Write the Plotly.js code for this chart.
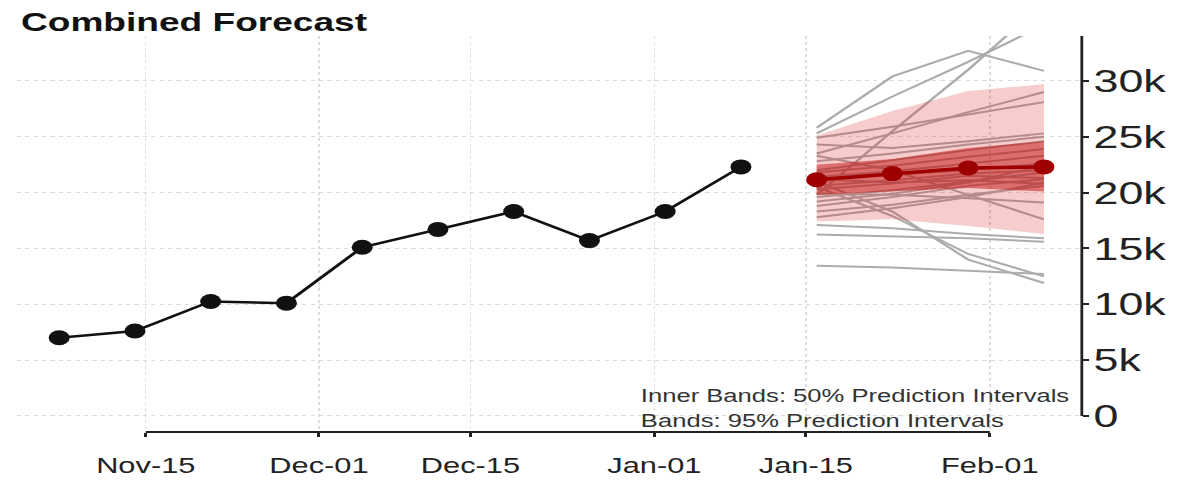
<!DOCTYPE html>
<html>
<head>
<meta charset="utf-8">
<script src="https://cdn.plot.ly/plotly-3.0.1.min.js"></script>
<style>
  html, body { margin: 0; padding: 0; background: #ffffff; overflow: hidden; }
  #chart { width: 851px; height: 480px; transform: scaleX(1.3995); transform-origin: 0 0; }
</style>
</head>
<body>
<div id="chart"></div>
<script>
// ---- data ----
const histDates = ['2016-11-07','2016-11-14','2016-11-21','2016-11-28','2016-12-05','2016-12-12','2016-12-19','2016-12-26','2017-01-02','2017-01-09'];
const histValues = [7000, 7600, 10250, 10100, 15100, 16700, 18300, 15700, 18300, 22300];

const fcDates = ['2017-01-16','2017-01-23','2017-01-30','2017-02-06'];
const fcMedian = [21150, 21700, 22200, 22300];
const pi95Lower = [17400, 17600, 17000, 16300];
const pi95Upper = [25100, 27300, 29100, 29700];
const pi50Lower = [19800, 20100, 20400, 20100];
const pi50Upper = [22500, 23000, 24000, 24600];

// individual model forecast paths (one row per model, values at fcDates)
const modelPaths = [
  [25800, 30400, 32700, 30900],
  [25300, 28600, 31700, 35000],
  [19800, 25500, 31000, 37000],
  [24900, 25900, 27000, 28100],
  [23500, 25300, 27200, 29000],
  [24300, 24000, 24600, 25300],
  [22800, 23500, 24300, 25000],
  [23300, 22000, 19800, 17600],
  [22000, 22900, 23800, 24600],
  [21800, 22400, 23200, 23900],
  [21400, 21900, 22600, 23300],
  [21000, 21600, 22000, 22600],
  [20600, 21100, 21700, 22000],
  [20300, 20800, 21500, 21300],
  [21200, 20900, 21100, 20800],
  [19600, 20200, 21000, 21800],
  [19200, 19900, 20900, 22400],
  [18800, 19600, 20600, 21200],
  [18300, 18900, 19800, 20600],
  [17800, 18600, 19600, 20900],
  [19900, 19800, 19500, 19100],
  [20500, 17900, 14500, 12500],
  [21000, 18300, 14000, 11900],
  [17100, 16800, 16300, 15900],
  [16250, 16100, 15900, 15600],
  [13450, 13300, 13000, 12700]
];

const xTickDates = ['2016-11-15','2016-12-01','2016-12-15','2017-01-01','2017-01-15','2017-02-01'];
const xTickLabels = ['Nov-15','Dec-01','Dec-15','Jan-01','Jan-15','Feb-01'];
const yTickVals = [0, 5000, 10000, 15000, 20000, 25000, 30000];
const yTickLabels = ['0','5k','10k','15k','20k','25k','30k'];

const noteLines = ['Inner Bands: 50% Prediction Intervals', 'Bands: 95% Prediction Intervals'];
const chartTitle = 'Combined Forecast';

// ---- traces ----
const FONT = '"Liberation Sans", Arial, Helvetica, sans-serif';
const yTop = 34020;
const traces = [];

modelPaths.forEach(function (p) {
  traces.push({
    x: fcDates, y: p, type: 'scatter', mode: 'lines',
    line: { color: '#acacac', width: 2 }, hoverinfo: 'skip', showlegend: false
  });
});

traces.push({ x: fcDates, y: pi95Lower, type: 'scatter', mode: 'lines',
  line: { width: 0, color: 'rgba(0,0,0,0)' }, hoverinfo: 'skip', showlegend: false });
traces.push({ x: fcDates, y: pi95Upper, type: 'scatter', mode: 'lines', fill: 'tonexty',
  fillcolor: 'rgba(215,25,25,0.22)', line: { width: 0, color: 'rgba(0,0,0,0)' },
  hoverinfo: 'skip', showlegend: false });
traces.push({ x: fcDates, y: pi50Lower, type: 'scatter', mode: 'lines',
  line: { width: 0, color: 'rgba(0,0,0,0)' }, hoverinfo: 'skip', showlegend: false });
traces.push({ x: fcDates, y: pi50Upper, type: 'scatter', mode: 'lines', fill: 'tonexty',
  fillcolor: 'rgba(195,15,15,0.5)', line: { width: 0, color: 'rgba(0,0,0,0)' },
  hoverinfo: 'skip', showlegend: false });

traces.push({ x: fcDates, y: fcMedian, type: 'scatter', mode: 'lines+markers',
  line: { color: '#9e0000', width: 3.5 }, marker: { color: '#9e0000', size: 15 },
  cliponaxis: false, showlegend: false });

traces.push({ x: histDates, y: histValues, type: 'scatter', mode: 'lines+markers',
  line: { color: '#111111', width: 2.5 }, marker: { color: '#111111', size: 15 },
  cliponaxis: false, showlegend: false });

const layout = {
  width: 851, height: 480,
  margin: { l: 12, r: 78, t: 36, b: 48 },
  paper_bgcolor: '#ffffff', plot_bgcolor: '#ffffff',
  font: { family: FONT, color: '#222222' },
  showlegend: false,
  title: {
    text: '<b>' + chartTitle + '</b>',
    font: { family: FONT, size: 26.5, color: '#111111' },
    xref: 'container', x: 15 / 851, xanchor: 'left',
    yref: 'container', y: 1 - 22 / 480, yanchor: 'middle'
  },
  xaxis: {
    type: 'date',
    range: ['2016-11-03 02:00', '2017-02-09 12:00'],
    tickmode: 'array', tickvals: xTickDates, ticktext: xTickLabels,
    ticks: 'outside', ticklen: 4, tickwidth: 2, tickcolor: '#222222',
    tickfont: { family: FONT, size: 22, color: '#222222' },
    ticklabelstandoff: 10,
    showgrid: true, gridcolor: '#dcdcdc', gridwidth: 1, griddash: 'dot',
    showline: false, zeroline: false, fixedrange: true
  },
  yaxis: {
    side: 'right',
    range: [-1440, yTop],
    tickmode: 'array', tickvals: yTickVals, ticktext: yTickLabels,
    ticks: 'outside', ticklen: 4, tickwidth: 2, tickcolor: '#222222',
    tickfont: { family: FONT, size: 32, color: '#222222' },
    ticklabelstandoff: -3,
    showgrid: true, gridcolor: '#dcdcdc', gridwidth: 1, griddash: 'dot',
    showline: false, zeroline: false, fixedrange: true
  },
  shapes: [
    { type: 'line', xref: 'x', yref: 'paper', x0: xTickDates[0], x1: xTickDates[xTickDates.length - 1],
      y0: 0, y1: 0, line: { color: '#222222', width: 2 } },
    { type: 'line', xref: 'paper', yref: 'y', x0: 1, x1: 1, y0: 0, y1: yTop,
      line: { color: '#222222', width: 2 } }
  ],
  annotations: [
    { text: noteLines[0], xref: 'paper', yref: 'paper', x: 0.583, y: 0.0934,
      xanchor: 'left', yanchor: 'middle', showarrow: false,
      font: { family: FONT, size: 18.3, color: '#333333' } },
    { text: noteLines[1], xref: 'paper', yref: 'paper', x: 0.583, y: 0.0303,
      xanchor: 'left', yanchor: 'middle', showarrow: false,
      font: { family: FONT, size: 18.3, color: '#333333' } }
  ]
};

Plotly.newPlot('chart', traces, layout, { displayModeBar: false, staticPlot: true });
</script>
</body>
</html>
